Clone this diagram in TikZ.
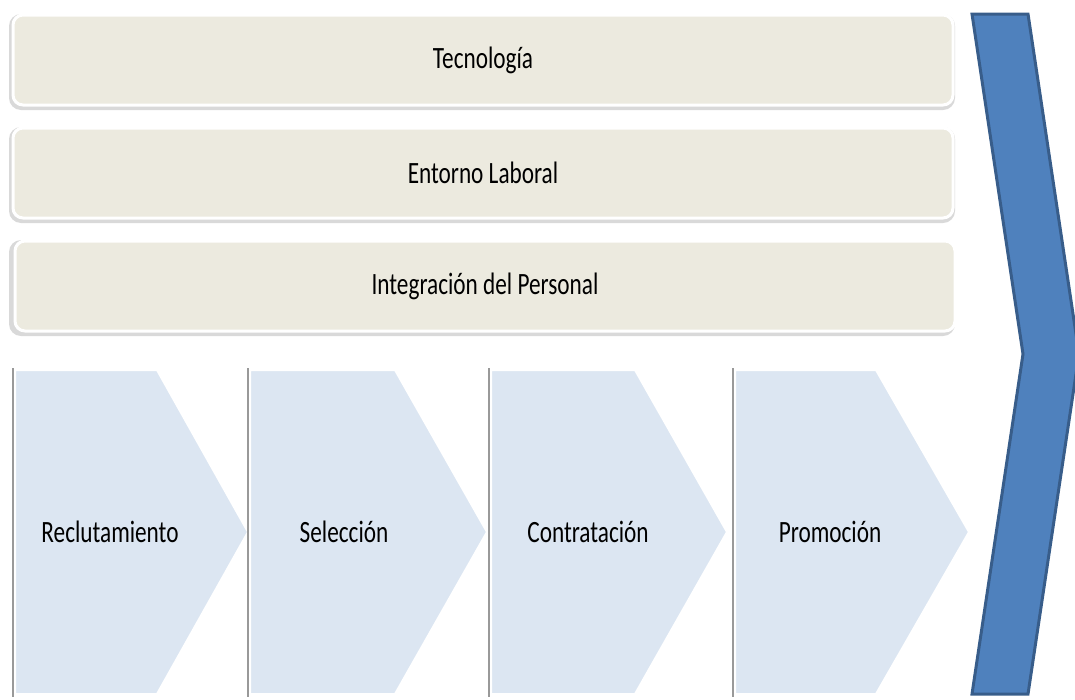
\documentclass[tikz,border=0pt]{standalone}
\usepackage{fontspec}
\setmainfont{Carlito}
\definecolor{boxfill}{HTML}{ECEADF}
\definecolor{chevfill}{HTML}{DCE6F2}
\definecolor{bigfill}{HTML}{4F81BD}
\definecolor{bigline}{HTML}{385D8A}
\newcommand{\sq}[1]{\scalebox{0.75}[1]{#1}}
\tikzset{
  topbox/.style={fill=boxfill, draw=white, line width=3pt, rounded corners=10pt,
    minimum width=940pt, minimum height=90pt, font=\fontsize{31}{34}\selectfont, inner sep=0pt},
  boxshadow/.style={fill=black!25, rounded corners=12pt, opacity=0.6},
  chev/.style={fill=chevfill, draw=white, line width=2pt, line join=miter},
  chevshadow/.style={draw=black!40, line width=2pt},
  chevtext/.style={font=\fontsize{31}{34}\selectfont, inner sep=0pt},
  bigchev/.style={fill=bigfill, draw=bigline, line width=3pt, line join=miter}
}
\begin{document}
\begin{tikzpicture}[x=1pt,y=-1pt]
\useasboundingbox (0,0) rectangle (1075,699);
% top boxes
\foreach \yc in {60,173,286}{
  \fill[boxshadow] (9,\yc-46) rectangle (955,\yc+50);
}
\node[topbox] (tec) at (483,60) {\sq{Tecnología}};
\node[topbox] (ent) at (483,173) {\sq{Entorno Laboral}};
\node[topbox] (int) at (485,286) {\sq{Integración del Personal}};
% chevrons
\foreach \L/\R/\T in {15/157/248, 250/395/487, 491/635/727, 735/876/969}{
  \draw[chevshadow] (\L-2,368) -- (\L-2,697);
  \draw[chev] (\L,370) -- (\R,370) -- (\T,532) -- (\R,694) -- (\L,694) -- cycle;
}
\node[chevtext] (rec) at (110,532) {\sq{Reclutamiento}};
\node[chevtext] (sel) at (344,532) {\sq{Selección}};
\node[chevtext] (con) at (588,532) {\sq{Contratación}};
\node[chevtext] (pro) at (830,532) {\sq{Promoción}};
% big arrow
\draw[bigchev] (972,14) -- (1028,14) -- (1079,354) -- (1028,694) -- (972,694) -- (1023,354) -- cycle;
\end{tikzpicture}
\end{document}
